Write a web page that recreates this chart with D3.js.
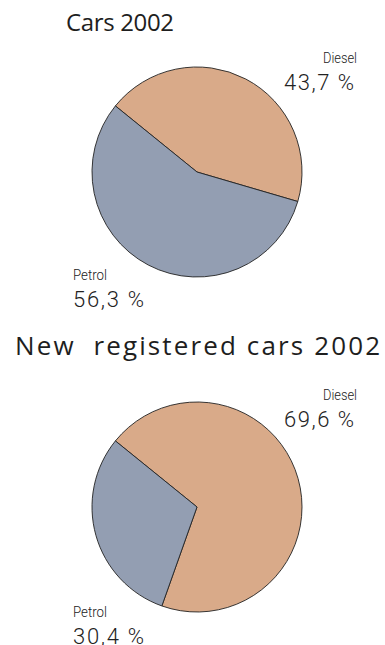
<!DOCTYPE html>
<html>
<head>
<meta charset="utf-8">
<script src="https://cdn.jsdelivr.net/npm/d3@7"></script>
<style>
  html, body { margin: 0; padding: 0; background: #fff; }
  svg { display: block; }
  .title { font-family: "Open Sans", "Noto Sans", sans-serif; font-weight: 500; fill: #1e1e1e; white-space: pre; }
  .lab { font-family: Roboto, "Liberation Sans", sans-serif; font-weight: 300; fill: #222; }
</style>
</head>
<body>
<script>
// Fuel share of cars, 2002
const categories = ["Diesel", "Petrol"];
const carsValues = [43.7, 56.3];
const newCarsValues = [69.6, 30.4];
const chartTitles = ["Cars 2002", "New  registered cars 2002"];

const colors = d3.scaleOrdinal().domain(categories).range(["#d9aa89", "#939eb2"]);

const W = 385, H = 645;
const svg = d3.select("body").append("svg").attr("width", W).attr("height", H);

const fmt = v => d3.format(".1f")(v).replace(".", ",") + " %";

// Slices start just left of twelve o'clock, Diesel first, clockwise
const start = -51 * Math.PI / 180;
const pie = d3.pie().sort(null).value(d => d.value)
  .startAngle(start).endAngle(start + 2 * Math.PI);
const R = 105;
const arc = d3.arc().innerRadius(0).outerRadius(R);

const panels = [
  { title: chartTitles[0], values: carsValues, titleX: 66, titleY: 31, titleW: 108, titleSize: 24,
    cx: 197, cy: 172, dieselY: 63, petrolY: 280 },
  { title: chartTitles[1], values: newCarsValues, titleX: 15, titleY: 355, titleW: 365, titleSize: 26,
    cx: 197, cy: 507, dieselY: 400, petrolY: 617 }
];

panels.forEach(p => {
  const g = svg.append("g");
  g.append("text").attr("class", "title")
    .attr("x", p.titleX).attr("y", p.titleY)
    .attr("font-size", p.titleSize)
    .attr("textLength", p.titleW)
    .attr("lengthAdjust", "spacing")
    .text(p.title);

  const data = categories.map((c, i) => ({ name: c, value: p.values[i] }));
  g.append("g").attr("transform", `translate(${p.cx},${p.cy})`)
    .selectAll("path").data(pie(data)).join("path")
    .attr("d", arc)
    .attr("fill", d => colors(d.data.name))
    .attr("stroke", "#222")
    .attr("stroke-width", 0.9)
    .attr("stroke-linejoin", "round");

  // Diesel label, upper right
  g.append("text").attr("class", "lab").attr("text-anchor", "end")
    .attr("x", 357).attr("y", p.dieselY).attr("font-size", 14)
    .attr("textLength", 34).attr("lengthAdjust", "spacingAndGlyphs")
    .text(data[0].name);
  g.append("text").attr("class", "lab").attr("text-anchor", "end")
    .attr("x", 354).attr("y", p.dieselY + 27).attr("font-size", 22)
    .attr("textLength", 70).attr("lengthAdjust", "spacing")
    .text(fmt(data[0].value));

  // Petrol label, lower left
  g.append("text").attr("class", "lab")
    .attr("x", 73).attr("y", p.petrolY).attr("font-size", 14)
    .attr("textLength", 34).attr("lengthAdjust", "spacingAndGlyphs")
    .text(data[1].name);
  g.append("text").attr("class", "lab")
    .attr("x", 73).attr("y", p.petrolY + 27).attr("font-size", 22)
    .attr("textLength", 71).attr("lengthAdjust", "spacing")
    .text(fmt(data[1].value));
});
</script>
</body>
</html>
